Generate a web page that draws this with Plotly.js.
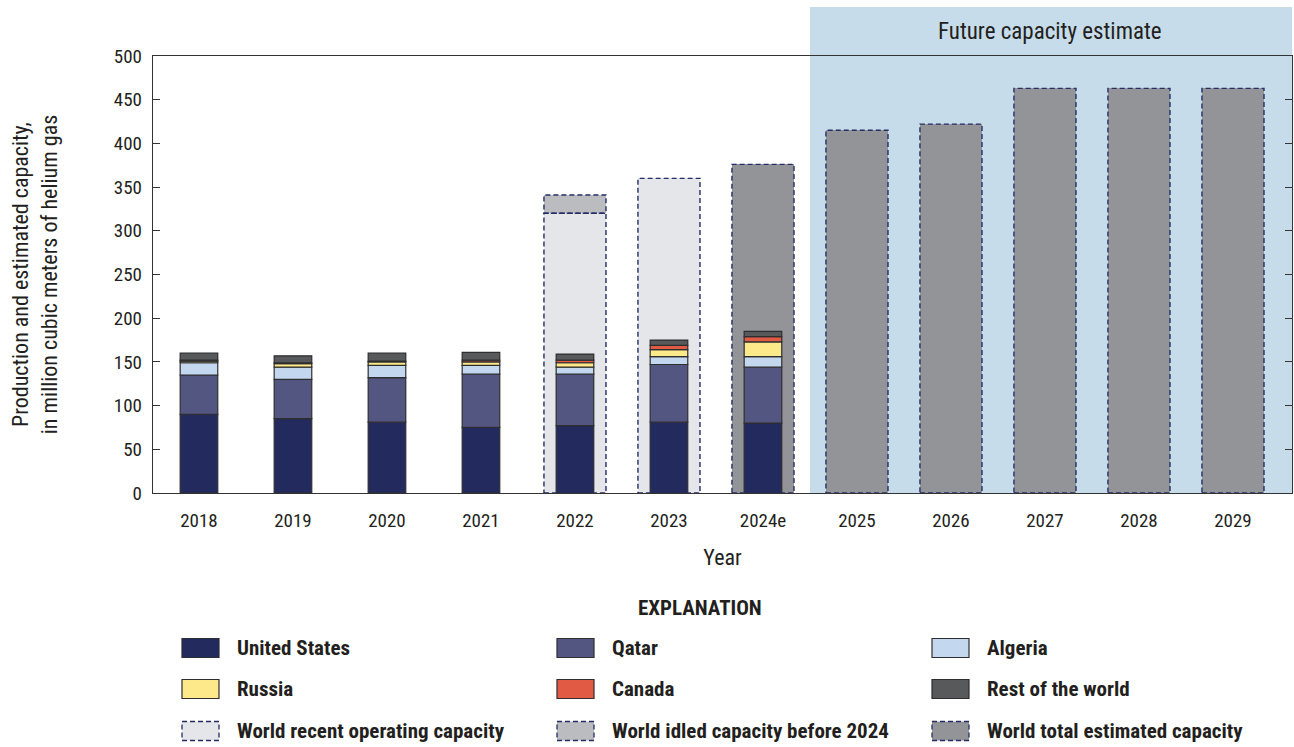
<!DOCTYPE html>
<html>
<head>
<meta charset="utf-8">
<script src="https://cdn.plot.ly/plotly-3.0.1.min.js"></script>
<style>html,body{margin:0;padding:0;background:#fff;}#chart{width:1294px;height:747px;}</style>
</head>
<body>
<div id="chart"></div>
<script>
// ---- data ----
const years = ["2018","2019","2020","2021","2022","2023","2024e","2025","2026","2027","2028","2029"];
const prodYears = ["2018","2019","2020","2021","2022","2023","2024e"];
const unitedStates = [90, 85, 81, 75, 77, 81, 80];
const qatar        = [45, 45, 51, 61, 59, 66, 64];
const algeria      = [14, 14, 14, 10,  8,  9, 12];
const russia       = [ 2,  4,  4,  4,  5,  8, 17];
const canada       = [ 1,  1,  1,  2,  3,  5,  6];
const restOfWorld  = [ 8,  8,  9,  9,  7,  6,  6];
const operatingYears = ["2022","2023"];
const operatingCapacity = [320, 360];
const idledYears = ["2022"];
const idledCapacity = [21];
const totalYears = ["2024e","2025","2026","2027","2028","2029"];
const totalCapacity = [376, 415, 422, 463, 463, 463];
const yTicks = [0,50,100,150,200,250,300,350,400,450,500];

// ---- styling ----
const FONT = "'Liberation Sans Narrow', 'Arial Narrow', 'Roboto Condensed', Roboto, 'Liberation Sans', sans-serif";
const TXT = "#231f20";
const dashNavy = "#262d66";
const idx = y => years.indexOf(y);

const seriesDefs = [
  {name:"United States", vals:unitedStates, color:"#232a5e"},
  {name:"Qatar", vals:qatar, color:"#545682"},
  {name:"Algeria", vals:algeria, color:"#c3d8ee"},
  {name:"Russia", vals:russia, color:"#fde98a"},
  {name:"Canada", vals:canada, color:"#e05a44"},
  {name:"Rest of the world", vals:restOfWorld, color:"#58595b"}
];

const traces = [];
const shapes = [];
const capW = 0.66, prodW = 0.40;

function capTrace(name, ys, vals, bases, color){
  traces.push({type:"bar", name:name, x: ys.map(idx), y: vals, base: bases,
    width: capW, marker:{color:color, line:{width:0}}, showlegend:false, hoverinfo:"skip"});
  ys.forEach((y,i)=>{
    const b = bases ? bases[i] : 0;
    shapes.push({type:"rect", xref:"x", yref:"y", layer:"above",
      x0: idx(y)-capW/2, x1: idx(y)+capW/2, y0: b, y1: b+vals[i],
      line:{color:dashNavy, width:1.4, dash:"5px,3px"}, fillcolor:"rgba(0,0,0,0)"});
  });
}
capTrace("World recent operating capacity", operatingYears, operatingCapacity, null, "#e5e6e9");
capTrace("World idled capacity before 2024", idledYears, idledCapacity, idledYears.map(y=>operatingCapacity[operatingYears.indexOf(y)]), "#bbbcc0");
capTrace("World total estimated capacity", totalYears, totalCapacity, null, "#939497");

const cum = prodYears.map(()=>0);
seriesDefs.forEach(s=>{
  traces.push({type:"bar", name:s.name, x: prodYears.map(idx), y: s.vals, base: cum.slice(),
    width: prodW, marker:{color:s.color, line:{color:"#2e2e30", width:1.2}},
    showlegend:false, hoverinfo:"skip"});
  s.vals.forEach((v,i)=>cum[i]+=v);
});

// ---- layout helpers (pixel -> paper) ----
const L=153, R=1292, T=56, B=493;
const px = x => (x-L)/(R-L);
const py = y => (B-y)/(B-T);

// future shading
shapes.unshift({type:"rect", xref:"paper", yref:"paper", layer:"below",
  x0: px(810), x1: px(1292), y0: py(493), y1: py(7), line:{width:0}, fillcolor:"#c7dcea"});

const annotations = [
  {text:"Future capacity estimate", xref:"paper", yref:"paper", x: px(1050), y: py(31),
   showarrow:false, font:{family:FONT, size:23, color:TXT}, xanchor:"center", yanchor:"middle"},
  {text:"<b>EXPLANATION</b>", xref:"paper", yref:"paper", x: px(700), y: py(608),
   showarrow:false, font:{family:FONT, size:21, color:TXT}, xanchor:"center", yanchor:"middle"}
];

const legendItems = [
  {name:"United States", color:"#232a5e", dashed:false},
  {name:"Qatar", color:"#545682", dashed:false},
  {name:"Algeria", color:"#c3d8ee", dashed:false},
  {name:"Russia", color:"#fde98a", dashed:false},
  {name:"Canada", color:"#e05a44", dashed:false},
  {name:"Rest of the world", color:"#58595b", dashed:false},
  {name:"World recent operating capacity", color:"#e5e6e9", dashed:true},
  {name:"World idled capacity before 2024", color:"#bbbcc0", dashed:true},
  {name:"World total estimated capacity", color:"#939497", dashed:true}
];
const colX = [182, 557, 932];
const rowY = [648, 689, 731];
legendItems.forEach((it,k)=>{
  const c = k%3, r = Math.floor(k/3);
  shapes.push({type:"rect", xref:"paper", yref:"paper",
    x0: px(colX[c]), x1: px(colX[c]+37), y0: py(rowY[r]+9.5), y1: py(rowY[r]-9.5),
    fillcolor: it.color,
    line: it.dashed ? {color:dashNavy, width:1.3, dash:"5px,3px"} : {color:"#2e2e30", width:1.2}});
  annotations.push({text:"<b>"+it.name+"</b>", xref:"paper", yref:"paper",
    x: px(colX[c]+53), y: py(rowY[r]), xanchor:"left", yanchor:"middle", showarrow:false,
    font:{family:FONT, size:21, color:TXT}});
});

const layout = {
  width:1294, height:747,
  margin:{l:L, r:1294-R, t:T, b:747-B, pad:0},
  paper_bgcolor:"#ffffff", plot_bgcolor:"rgba(0,0,0,0)",
  barmode:"overlay", bargap:0, showlegend:false,
  font:{family:FONT, color:TXT},
  xaxis:{range:[-0.489, 11.628], tickmode:"array", tickvals: years.map((y,i)=>i), ticktext: years,
    showgrid:false, zeroline:false, showline:true, linecolor:"#333", linewidth:1.2, mirror:true,
    ticks:"", tickfont:{family:FONT, size:19, color:TXT}, ticklabelstandoff:10,
    title:{text:"Year", font:{family:FONT, size:22, color:TXT}, standoff:18}},
  yaxis:{range:[0,500], tickmode:"array", tickvals:yTicks, showgrid:false, zeroline:false,
    showline:true, linecolor:"#333", linewidth:1.2, mirror:"ticks", ticks:"inside", ticklen:7,
    tickcolor:"#333", tickwidth:1.2, tickfont:{family:FONT, size:19, color:TXT}, ticklabelstandoff:6,
    title:{text:"Production and estimated capacity,<br>in million cubic meters of helium gas",
      font:{family:FONT, size:22, color:TXT}, standoff:50}},
  shapes: shapes,
  annotations: annotations
};

Plotly.newPlot("chart", traces, layout, {displayModeBar:false, staticPlot:true});
</script>
</body>
</html>
